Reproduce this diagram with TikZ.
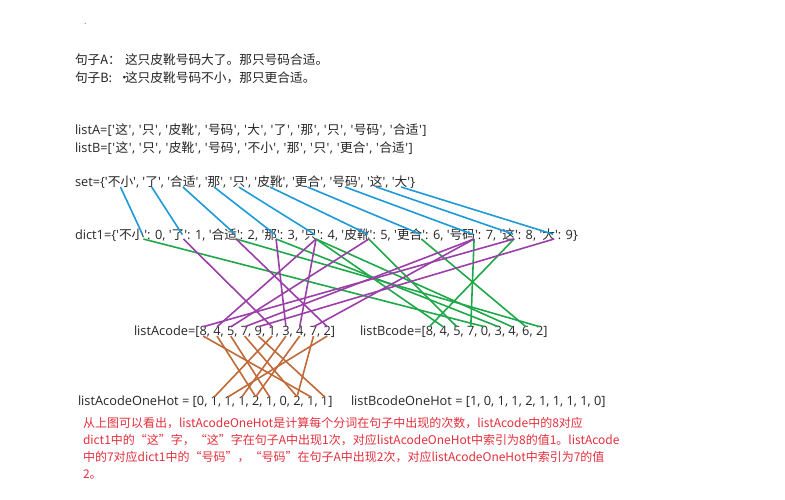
\documentclass[tikz,border=0pt]{standalone}
\usepackage{fontspec}
\setmainfont{Open Sans}
\newfontfamily\cjk{Noto Sans CJK SC}
\newcommand\sq{\textquotesingle}
\newcommand\sqa{\kern0.45pt\textquotesingle\kern0.45pt}
\newcommand\cj{\cjk\fontsize{12.7}{16}\selectfont}
\newcommand\csp{,\kern\fontdimen2\font}
\definecolor{txt}{RGB}{38,38,38}
\definecolor{lblue}{RGB}{30,154,216}
\definecolor{lgreen}{RGB}{31,168,74}
\definecolor{lpurple}{RGB}{154,63,168}
\definecolor{lbrown}{RGB}{192,106,58}
\definecolor{lred}{RGB}{228,48,60}
\begin{document}
\begin{tikzpicture}[x=1pt,y=-1pt,
  tk/.style={inner sep=0pt,outer sep=0pt,anchor=base west,text=txt},
  lt/.style={tk,font=\fontsize{12.8}{16}\selectfont},
  cjt/.style={tk,font=\cj},
  redt/.style={tk,font=\cjk\fontsize{12}{17}\selectfont,text=lred},
  con/.style={line width=1.6pt},
  bl/.style={con,draw=lblue},
  gl/.style={con,draw=lgreen},
  pl/.style={con,draw=lpurple},
  br/.style={con,draw=lbrown}]
\fill[white] (0,0) rectangle (785,500);
\useasboundingbox (0,0) rectangle (785,500);

% top
\node[tk,font=\cjk\fontsize{9}{10}\selectfont,text=gray] (dot) at (84,25) {.};
\node[cjt] (ta) at (75,65) {句子A：};
\node[cjt] (tas) at (125,65) {这只皮靴号码大了。那只号码合适。};
\node[cjt] (tb) at (75,83) {句子B:};
\node[cjt] (tbd) at (118,83) {·};
\node[cjt] (tbs) at (125,83) {这只皮靴号码不小，那只更合适。};

% lists
\node[lt] (la) at (75,135) {listA=[\sqa{\cj 这}\sqa, \sqa{\cj 只}\sqa, \sqa{\cj 皮靴}\sqa, \sqa{\cj 号码}\sqa, \sqa{\cj 大}\sqa, \sqa{\cj 了}\sqa, \sqa{\cj 那}\sqa, \sqa{\cj 只}\sqa, \sqa{\cj 号码}\sqa, \sqa{\cj 合适}\sqa]};
\node[lt] (lb) at (75,153) {listB=[\sqa{\cj 这}\sqa, \sqa{\cj 只}\sqa, \sqa{\cj 皮靴}\sqa, \sqa{\cj 号码}\sqa, \sqa{\cj 不小}\sqa, \sqa{\cj 那}\sqa, \sqa{\cj 只}\sqa, \sqa{\cj 更合}\sqa, \sqa{\cj 合适}\sqa]};

% set
\node[lt] (ssep0) at (75,187) {set=\{\sq};
\foreach \w [count=\i from 0, evaluate=\i as \j using int(\i+1)] in {不小,了,合适,那,只,皮靴,更合,号码,这,大}{
  \node[cjt] (s\i) at (ssep\i.base east) {\w};
  \node[lt] (ssep\j) at (s\i.base east) {\ifnum\i<9 \sq, \sq\else\sq\}\fi};
}

% dict
\node[lt] (dsep0) at (75,239) {dict1=\{\sq};
\foreach \w [count=\i from 0, evaluate=\i as \j using int(\i+1)] in {不小,了,合适,那,只,皮靴,更合,号码,这,大}{
  \node[cjt] (d\i) at (dsep\i.base east) {\w};
  \node[lt] (dsep\j) at (d\i.base east) {\sq: \i\ifnum\i<9 , \sq\else\}\fi};
}

% listAcode
\node[lt] (asep0) at (134,335) {listAcode=[};
\foreach \v [count=\i from 0, evaluate=\i as \j using int(\i+1)] in {8,4,5,7,9,1,3,4,7,2}{
  \node[lt] (a\i) at (asep\i.base east) {\v};
  \node[lt] (asep\j) at (a\i.base east) {\ifnum\i<9 \csp\else]\fi};
}

% listBcode
\node[lt] (bsep0) at (360,335) {listBcode=[};
\foreach \v [count=\i from 0, evaluate=\i as \j using int(\i+1)] in {8,4,5,7,0,3,4,6,2}{
  \node[lt] (b\i) at (bsep\i.base east) {\v};
  \node[lt] (bsep\j) at (b\i.base east) {\ifnum\i<8 \csp\else]\fi};
}

% onehot A
\node[lt] (hsep0) at (78,405) {listAcodeOneHot = [};
\foreach \v [count=\i from 0, evaluate=\i as \j using int(\i+1)] in {0,1,1,1,2,1,0,2,1,1}{
  \node[lt] (h\i) at (hsep\i.base east) {\v};
  \node[lt] (hsep\j) at (h\i.base east) {\ifnum\i<9 \csp\else]\fi};
}
\node[lt] (hb) at (351,405) {listBcodeOneHot = [1, 0, 1, 1, 2, 1, 1, 1, 1, 0]};

% red note
\node[redt] (r1) at (83,427) {从上图可以看出，listAcodeOneHot是计算每个分词在句子中出现的次数，listAcode中的8对应};
\node[redt] (r2) at (83,444) {dict1中的“这”字，“这”字在句子A中出现1次，对应listAcodeOneHot中索引为8的值1。listAcode};
\node[redt] (r3) at (83,461) {中的7对应dict1中的“号码”，“号码”在句子A中出现2次，对应listAcodeOneHot中索引为7的值};
\node[redt] (r4) at (83,478) {2。};

% connectors
\foreach \i in {0,...,9}{
  \draw[bl] ([yshift=1pt]s\i.south) -- ([xshift=-2pt]d\i.east);
}
\foreach \v [count=\i from 0] in {8,4,5,7,0,3,4,6,2}{
  \draw[gl] ([xshift=-1pt,yshift=1pt]d\v.south east) -- ([yshift=-1pt]b\i.north);
}
\foreach \v [count=\i from 0] in {8,4,5,7,9,1,3,4,7,2}{
  \draw[pl] ([xshift=-1pt,yshift=1pt]d\v.south east) -- ([yshift=-1pt]a\i.north);
  \draw[br] ([yshift=-1pt]a\i.south) -- ([yshift=-1pt]h\v.north);
}
\end{tikzpicture}
\end{document}
